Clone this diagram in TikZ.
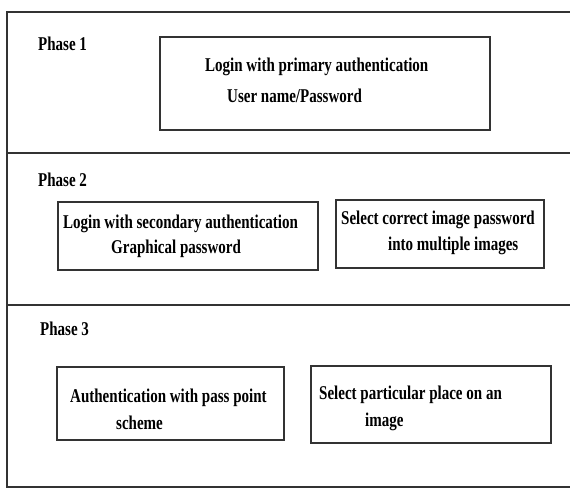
\documentclass[tikz,border=0pt]{standalone}
\usepackage{fontspec}
\setmainfont{Liberation Serif}[FakeStretch=0.77]
\begin{document}
\begin{tikzpicture}[x=1pt,y=-1pt,
  frame/.style={line width=1.1pt,draw=black!80},
  boxline/.style={line width=1.1pt,draw=black!80},
  txt/.style={anchor=base west,inner sep=0pt,font=\fontsize{19.5}{22}\selectfont\bfseries,text=black}]
\useasboundingbox (0,0) rectangle (570,489);
% outer frame and dividers
\draw[frame] (570,12) -- (7,12) -- (7,487) -- (570,487);
\draw[frame] (7,153) -- (570,153);
\draw[frame] (7,305) -- (570,305);
% phase labels
\node[txt] (ph1) at (38,51) {Phase 1};
\node[txt] (ph2) at (38,187) {Phase 2};
\node[txt] (ph3) at (40,335) {Phase 3};
% phase 1 box
\draw[boxline] (160,37) rectangle (490,130);
\node[txt] (p1a) at (205,72) {Login with primary authentication};
\node[txt] (p1b) at (227,103) {User name/Password};
% phase 2 boxes
\draw[boxline] (58,202) rectangle (318,270);
\node[txt] (p2a) at (63,228) {Login with secondary authentication};
\node[txt] (p2b) at (111,253) {Graphical password};
\draw[boxline] (336,200) rectangle (544,268);
\node[txt] (p2c) at (341,225) {Select correct image password};
\node[txt] (p2d) at (388,251) {into multiple images};
% phase 3 boxes
\draw[boxline] (57,367) rectangle (284,440);
\node[txt] (p3a) at (70,402) {Authentication with pass point};
\node[txt] (p3b) at (116,429) {scheme};
\draw[boxline] (311,366) rectangle (551,443);
\node[txt] (p3c) at (319,399) {Select particular place on an};
\node[txt] (p3d) at (365,426) {image};
\end{tikzpicture}
\end{document}
